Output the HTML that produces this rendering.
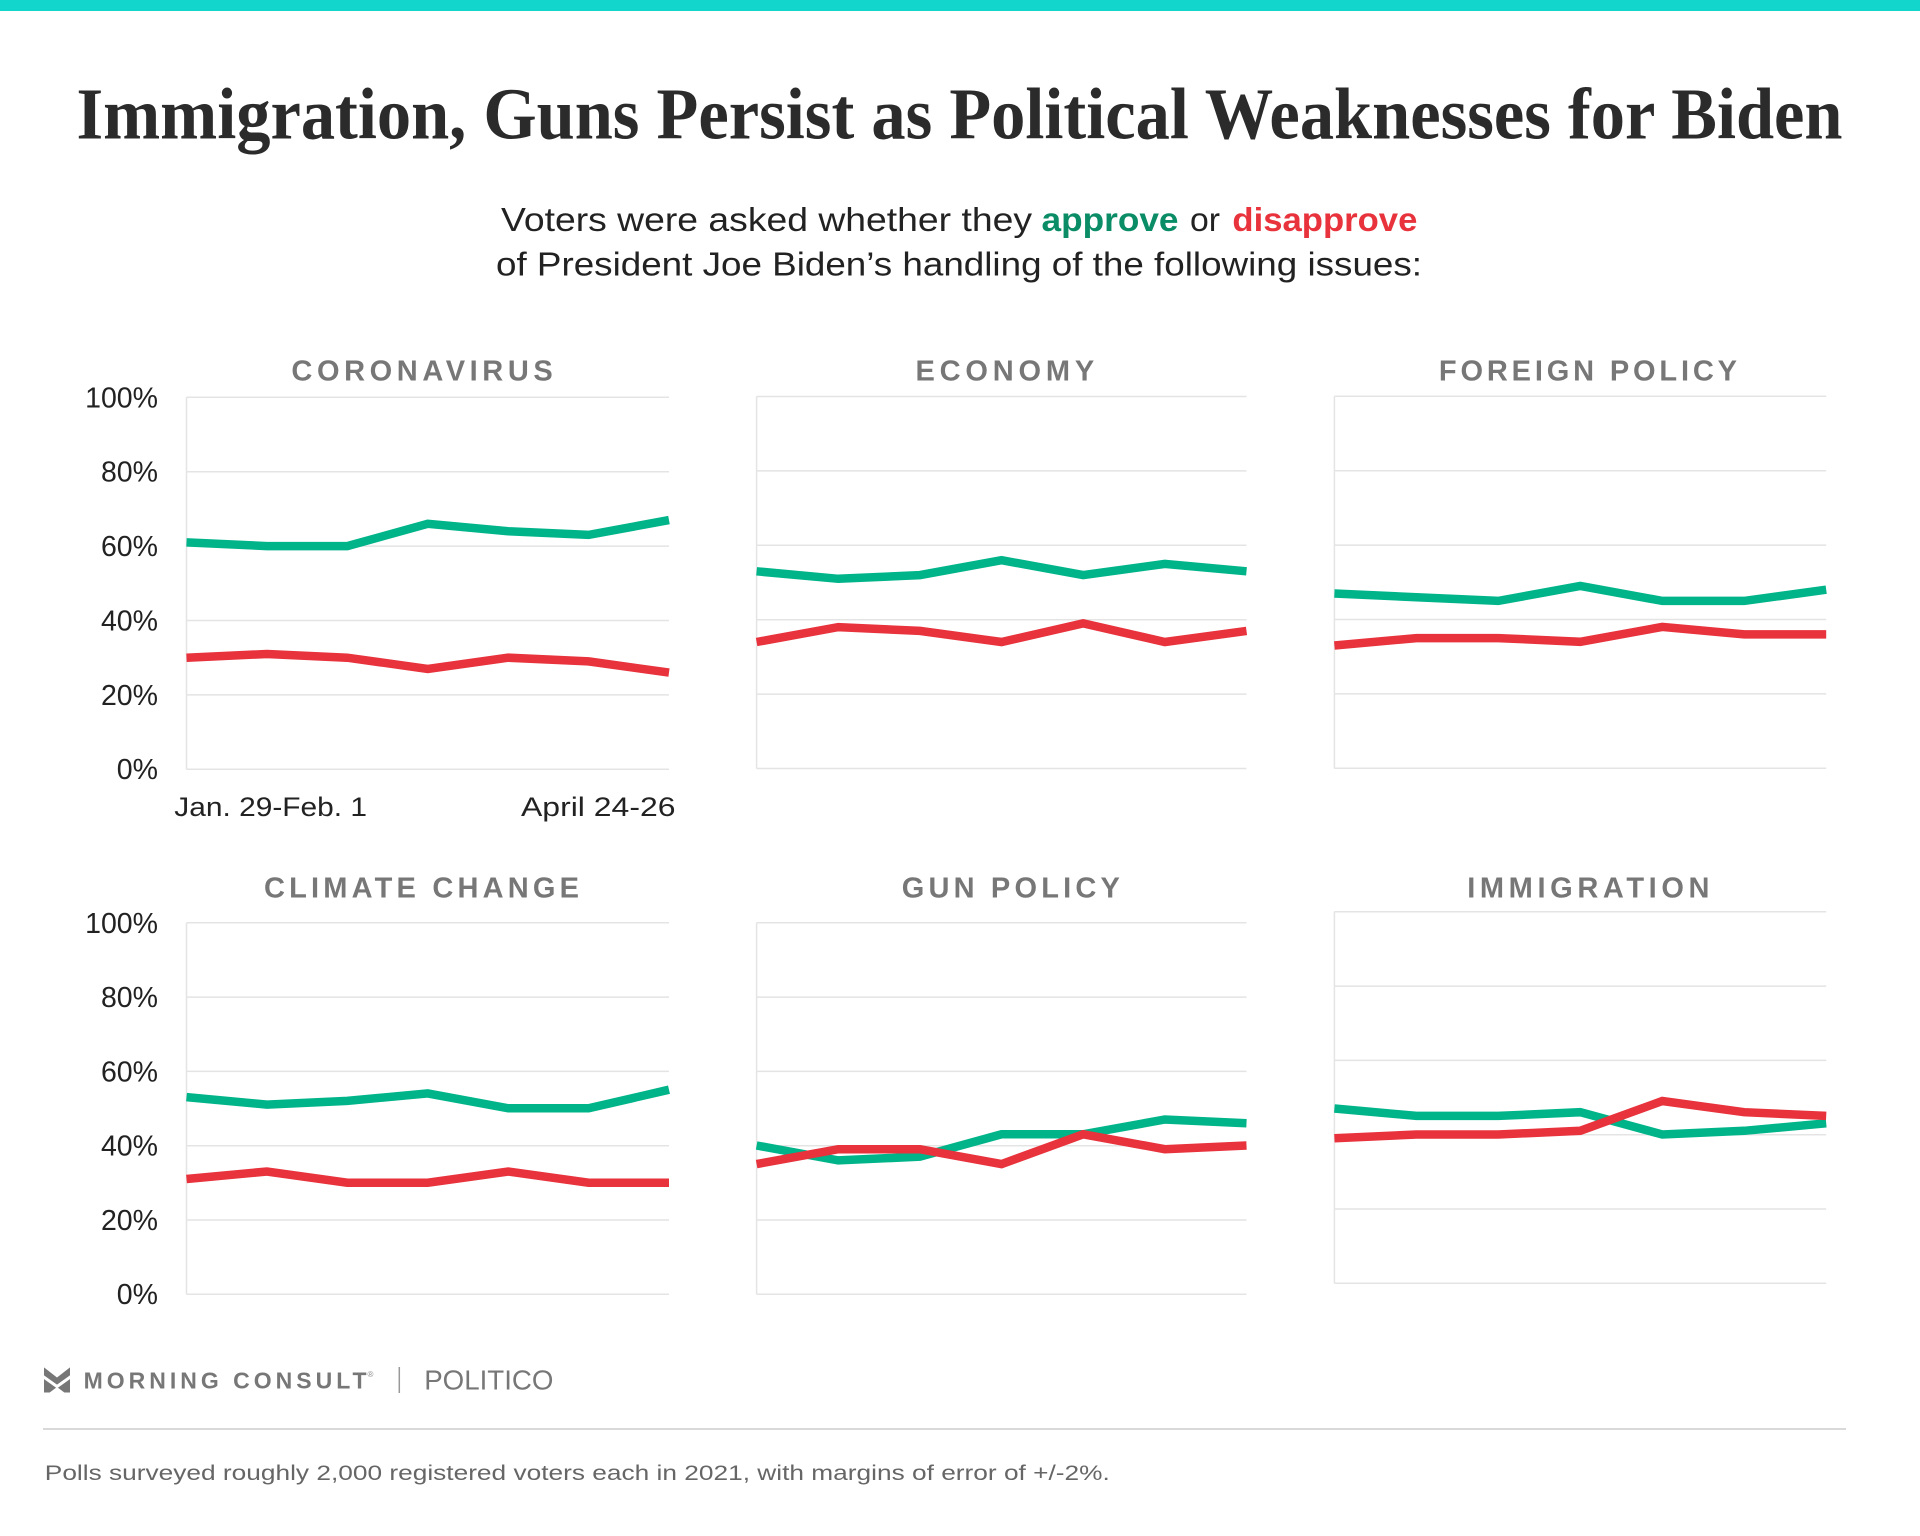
<!DOCTYPE html>
<html>
<head>
<meta charset="utf-8">
<style>
  html, body { margin: 0; padding: 0; background: #ffffff; }
  svg { display: block; }
  .sans { font-family: "Liberation Sans", Arial, sans-serif; }
  .serif { font-family: "Liberation Serif", "Times New Roman", serif; }
</style>
</head>
<body>
<svg width="1920" height="1536" viewBox="0 0 1920 1536" xmlns="http://www.w3.org/2000/svg">
  <rect x="0" y="0" width="1920" height="1536" fill="#ffffff"/>
  <!-- top bar -->
  <rect x="0" y="0" width="1920" height="11" fill="#12d5cc"/>

  <!-- title -->
  <text class="serif" x="76.5" y="138.3" font-size="73" font-weight="bold" fill="#2b2b2b" textLength="1766" lengthAdjust="spacingAndGlyphs">Immigration, Guns Persist as Political Weaknesses for Biden</text>

  <!-- subtitle -->
  <g class="sans" font-size="33" fill="#222222">
    <text x="501" y="231" textLength="531" lengthAdjust="spacingAndGlyphs">Voters were asked whether they</text>
    <text x="1041.5" y="231" font-weight="bold" fill="#0a8c66" textLength="137" lengthAdjust="spacingAndGlyphs">approve</text>
    <text x="1190" y="231" textLength="30" lengthAdjust="spacingAndGlyphs">or</text>
    <text x="1232.4" y="231" font-weight="bold" fill="#e8333c" textLength="185" lengthAdjust="spacingAndGlyphs">disapprove</text>
    <text x="496" y="275.5" textLength="926" lengthAdjust="spacingAndGlyphs">of President Joe Biden’s handling of the following issues:</text>
  </g>

  <!-- panel titles -->
  <g class="sans" font-size="29" font-weight="bold" fill="#777777">
    <text x="291.4" y="380.7" textLength="261.3" lengthAdjust="spacing">CORONAVIRUS</text>
    <text x="915.5" y="380.7" textLength="178.7" lengthAdjust="spacing">ECONOMY</text>
    <text x="1438.9" y="380.7" textLength="298.1" lengthAdjust="spacing">FOREIGN POLICY</text>
    <text x="264" y="897.7" textLength="315" lengthAdjust="spacing">CLIMATE CHANGE</text>
    <text x="901.7" y="897.7" textLength="218.1" lengthAdjust="spacing">GUN POLICY</text>
    <text x="1467.2" y="897.7" textLength="242.3" lengthAdjust="spacing">IMMIGRATION</text>
  </g>

  <!-- gridlines -->
  <g stroke="#e4e4e4" stroke-width="1.5" fill="none">
    <!-- Panel 1 -->
    <path d="M186.5 397.3H669 M186.5 471.7H669 M186.5 546.1H669 M186.5 620.5H669 M186.5 694.9H669 M186.5 769.3H669 M186.5 397.3V769.3"/>
    <!-- Panel 2 -->
    <path d="M756.6 396.5H1246.5 M756.6 470.9H1246.5 M756.6 545.3H1246.5 M756.6 619.7H1246.5 M756.6 694.1H1246.5 M756.6 768.5H1246.5 M756.6 396.5V768.5"/>
    <!-- Panel 3 -->
    <path d="M1334.4 396.3H1826.2 M1334.4 470.7H1826.2 M1334.4 545.1H1826.2 M1334.4 619.5H1826.2 M1334.4 693.9H1826.2 M1334.4 768.3H1826.2 M1334.4 396.3V768.3"/>
    <!-- Panel 4 -->
    <path d="M186.5 922.8H669 M186.5 997.1H669 M186.5 1071.4H669 M186.5 1145.7H669 M186.5 1220H669 M186.5 1294.3H669 M186.5 922.8V1294.3"/>
    <!-- Panel 5 -->
    <path d="M756.6 922.8H1246.5 M756.6 997.1H1246.5 M756.6 1071.4H1246.5 M756.6 1145.7H1246.5 M756.6 1220H1246.5 M756.6 1294.3H1246.5 M756.6 922.8V1294.3"/>
    <!-- Panel 6 -->
    <path d="M1334.4 911.8H1826.2 M1334.4 986.1H1826.2 M1334.4 1060.4H1826.2 M1334.4 1134.7H1826.2 M1334.4 1209H1826.2 M1334.4 1283.3H1826.2 M1334.4 911.8V1283.3"/>
  </g>

  <!-- y-axis labels -->
  <g class="sans" font-size="28.5" fill="#222222" text-anchor="end">
    <text x="158" y="407.3">100%</text>
    <text x="158" y="481.7">80%</text>
    <text x="158" y="556.1">60%</text>
    <text x="158" y="630.5">40%</text>
    <text x="158" y="704.9">20%</text>
    <text x="158" y="779">0%</text>

    <text x="158" y="932.8">100%</text>
    <text x="158" y="1007.1">80%</text>
    <text x="158" y="1081.4">60%</text>
    <text x="158" y="1155.7">40%</text>
    <text x="158" y="1230">20%</text>
    <text x="158" y="1304">0%</text>
  </g>

  <!-- x labels -->
  <g class="sans" font-size="27" fill="#222222">
    <text x="174.3" y="816" textLength="192.7" lengthAdjust="spacingAndGlyphs">Jan. 29-Feb. 1</text>
    <text x="521" y="816" textLength="154.5" lengthAdjust="spacingAndGlyphs">April 24-26</text>
  </g>

  <!-- data lines -->
  <g fill="none" stroke-width="8.5" stroke-linejoin="miter" stroke-linecap="butt">
    <!-- Coronavirus -->
    <polyline stroke="#e8323c" points="186.5,657.7 266.9,654.0 347.3,657.7 427.75,668.9 508.2,657.7 588.6,661.4 669,672.6"/>
    <polyline stroke="#00b48a" points="186.5,542.4 266.9,546.1 347.3,546.1 427.75,523.8 508.2,531.2 588.6,534.9 669,520.1"/>

    <!-- Economy -->
    <polyline stroke="#e8323c" points="756.6,642.0 838.25,627.1 919.9,630.9 1001.55,642.0 1083.2,623.4 1164.85,642.0 1246.5,630.9"/>
    <polyline stroke="#00b48a" points="756.6,571.3 838.25,578.8 919.9,575.1 1001.55,560.2 1083.2,575.1 1164.85,563.9 1246.5,571.3"/>

    <!-- Foreign policy -->
    <polyline stroke="#e8323c" points="1334.4,645.5 1416.4,638.1 1498.3,638.1 1580.3,641.8 1662.3,626.9 1744.2,634.4 1826.2,634.4"/>
    <polyline stroke="#00b48a" points="1334.4,593.5 1416.4,597.2 1498.3,600.9 1580.3,586.0 1662.3,600.9 1744.2,600.9 1826.2,589.7"/>

    <!-- Climate change -->
    <polyline stroke="#e8323c" points="186.5,1179.0 266.9,1171.5 347.3,1182.7 427.75,1182.7 508.2,1171.5 588.6,1182.7 669,1182.7"/>
    <polyline stroke="#00b48a" points="186.5,1097.1 266.9,1104.6 347.3,1100.9 427.75,1093.4 508.2,1108.3 588.6,1108.3 669,1089.7"/>

    <!-- Gun policy -->
    <polyline stroke="#00b48a" points="756.6,1145.5 838.25,1160.4 919.9,1156.7 1001.55,1134.3 1083.2,1134.3 1164.85,1119.5 1246.5,1123.2"/>
    <polyline stroke="#e8323c" points="756.6,1164.1 838.25,1149.2 919.9,1149.2 1001.55,1164.1 1083.2,1134.3 1164.85,1149.2 1246.5,1145.5"/>

    <!-- Immigration -->
    <polyline stroke="#00b48a" points="1334.4,1108.5 1416.4,1115.9 1498.3,1115.9 1580.3,1112.2 1662.3,1134.5 1744.2,1130.8 1826.2,1123.3"/>
    <polyline stroke="#e8323c" points="1334.4,1138.2 1416.4,1134.5 1498.3,1134.5 1580.3,1130.8 1662.3,1101.0 1744.2,1112.2 1826.2,1115.9"/>
  </g>

  <!-- footer logos -->
  <g transform="translate(44,1367.5)">
    <rect x="0" y="0" width="26" height="25" fill="#777777"/>
    <polygon points="-0.5,-0.5 13,10 26.5,-0.5" fill="#ffffff"/>
    <polyline points="-1,9 13,19 27,9" fill="none" stroke="#ffffff" stroke-width="3"/>
    <polygon points="5,25.5 13,19.5 21,25.5" fill="#ffffff"/>
  </g>
  <text class="sans" x="83.6" y="1388.3" font-size="23" font-weight="bold" fill="#777777" textLength="283" lengthAdjust="spacing">MORNING CONSULT</text>
  <text class="sans" x="367.5" y="1377" font-size="8" fill="#888888">®</text>
  <line x1="399.3" y1="1367" x2="399.3" y2="1393" stroke="#999999" stroke-width="1.5"/>
  <text class="sans" x="424.2" y="1389.3" font-size="28" fill="#777777" textLength="129.3" lengthAdjust="spacingAndGlyphs">POLITICO</text>

  <!-- separator -->
  <line x1="43" y1="1429" x2="1846" y2="1429" stroke="#d9d9d9" stroke-width="2"/>

  <!-- footnote -->
  <text class="sans" x="44.8" y="1480" font-size="21" fill="#666666" textLength="1065" lengthAdjust="spacingAndGlyphs">Polls surveyed roughly 2,000 registered voters each in 2021, with margins of error of +/-2%.</text>
</svg>
</body>
</html>
